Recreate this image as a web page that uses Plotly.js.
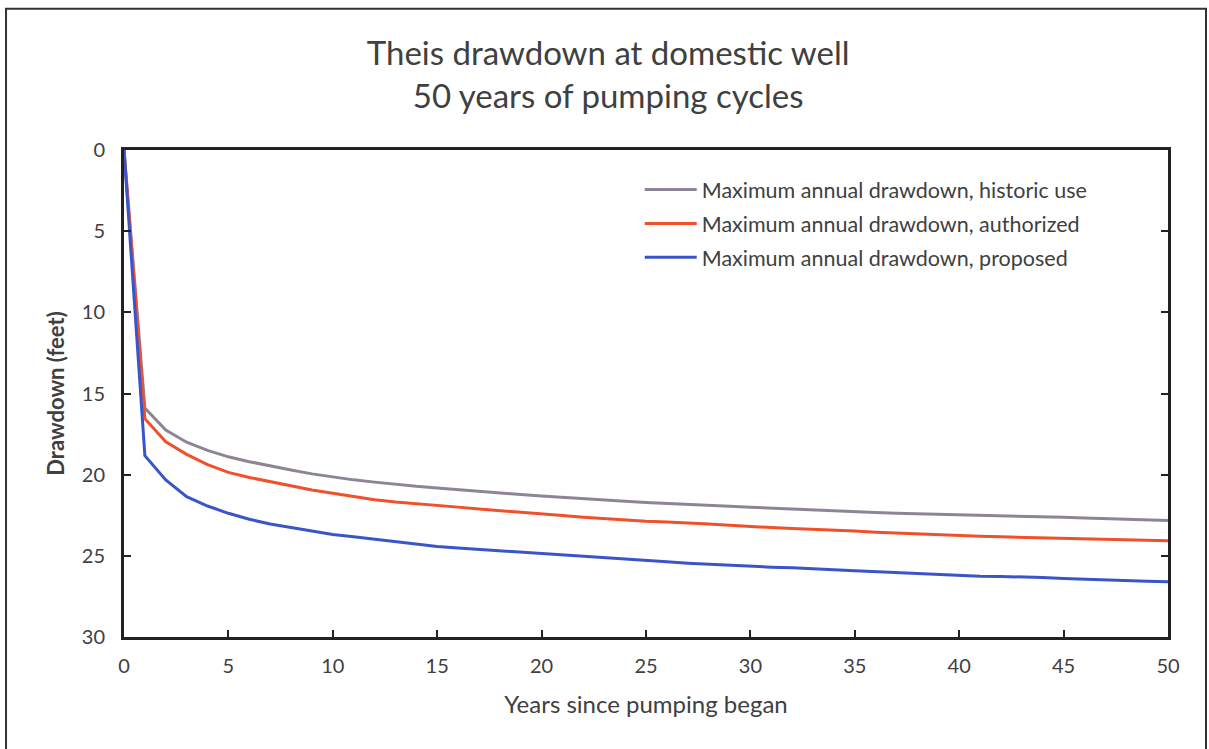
<!DOCTYPE html>
<html>
<head>
<meta charset="utf-8">
<script src="https://cdn.plot.ly/plotly-3.0.1.min.js"></script>
<style>
html,body{margin:0;padding:0;background:#fff;}
#chart{width:1209px;height:749px;}
</style>
</head>
<body>
<div id="chart"></div>
<script>
const years = Array.from({length: 51}, (_, i) => i);
const historic = [0, 15.9, 17.25, 18.0, 18.5, 18.9, 19.2, 19.47, 19.71, 19.95, 20.15, 20.32, 20.46, 20.6, 20.72, 20.82, 20.93, 21.03, 21.12, 21.22, 21.31, 21.4, 21.48, 21.56, 21.64, 21.71, 21.76, 21.81, 21.88, 21.95, 22.01, 22.07, 22.13, 22.18, 22.23, 22.28, 22.33, 22.37, 22.4, 22.42, 22.44, 22.48, 22.52, 22.55, 22.59, 22.63, 22.67, 22.71, 22.75, 22.79, 22.83];
const authorized = [0, 16.55, 17.97, 18.75, 19.38, 19.86, 20.17, 20.43, 20.7, 20.94, 21.14, 21.35, 21.54, 21.68, 21.78, 21.87, 22.0, 22.12, 22.23, 22.33, 22.42, 22.52, 22.62, 22.71, 22.8, 22.87, 22.92, 22.96, 23.04, 23.12, 23.2, 23.26, 23.31, 23.35, 23.41, 23.47, 23.54, 23.6, 23.66, 23.71, 23.76, 23.8, 23.83, 23.86, 23.9, 23.94, 23.96, 23.98, 24.01, 24.04, 24.07];
const proposed = [0, 18.83, 20.33, 21.36, 21.93, 22.38, 22.75, 23.04, 23.26, 23.49, 23.68, 23.82, 23.97, 24.12, 24.28, 24.42, 24.52, 24.6, 24.7, 24.78, 24.86, 24.94, 25.02, 25.1, 25.18, 25.26, 25.36, 25.45, 25.52, 25.58, 25.64, 25.7, 25.74, 25.78, 25.85, 25.92, 25.98, 26.04, 26.1, 26.16, 26.21, 26.25, 26.27, 26.29, 26.34, 26.39, 26.44, 26.49, 26.53, 26.56, 26.59];
const seriesNames = ["Maximum annual drawdown, historic use", "Maximum annual drawdown, authorized", "Maximum annual drawdown, proposed"];
const seriesColors = ["#8e8496", "#f0502a", "#3a55c8"];
const seriesData = [historic, authorized, proposed];
const xTicks = [0, 5, 10, 15, 20, 25, 30, 35, 40, 45, 50];
const yTicks = [0, 5, 10, 15, 20, 25, 30];

const FONT = "Lato, 'Open Sans', sans-serif";
const TXT = "#404040";

const traces = seriesData.map((d, i) => ({
  x: years, y: d, type: "scatter", mode: "lines",
  name: seriesNames[i], legendgroup: "g" + i,
  line: {color: seriesColors[i], width: 3}
}));

const layout = {
  width: 1209, height: 749,
  margin: {l: 124, r: 41, t: 150, b: 112},
  paper_bgcolor: "#ffffff", plot_bgcolor: "#ffffff",
  font: {family: FONT, color: TXT, size: 18},
  title: {
    text: "Theis drawdown at domestic well<br>50 years of pumping cycles",
    x: 0.503, xref: "container", xanchor: "center",
    y: 0.913, yref: "container", yanchor: "top",
    font: {family: FONT, size: 33, color: TXT}
  },
  showlegend: true,
  legend: {
    x: 0.494, xanchor: "left", y: 0.961, yanchor: "top",
    bgcolor: "rgba(0,0,0,0)", borderwidth: 0,
    font: {family: FONT, size: 21.5, color: TXT},
    traceorder: "grouped", tracegroupgap: 3, itemwidth: 52
  },
  xaxis: {
    range: [0, 50], tickvals: xTicks, ticktext: xTicks.map(String),
    showgrid: false, zeroline: false,
    showline: true, linecolor: "#222", linewidth: 3, mirror: true,
    ticks: "inside", ticklen: 7, tickwidth: 2, tickcolor: "#222",
    ticklabelstandoff: 9,
    tickfont: {family: FONT, size: 20, color: TXT},
    title: {text: "Years since pumping began", font: {family: FONT, size: 24, color: TXT}, standoff: 21}
  },
  yaxis: {
    range: [30, 0], tickvals: yTicks, ticktext: yTicks.map(String),
    showgrid: false, zeroline: false,
    showline: true, linecolor: "#222", linewidth: 3, mirror: "allticks",
    ticks: "inside", ticklen: 7, tickwidth: 2, tickcolor: "#222",
    ticklabelstandoff: 12,
    tickfont: {family: FONT, size: 20, color: TXT},
    title: {text: "<b>Drawdown (feet)</b>", font: {family: FONT, size: 22, color: TXT}, standoff: 12}
  },
  shapes: [{
    type: "rect", xref: "paper", yref: "paper",
    x0: -0.113, x1: 1.0364, y0: -0.26, y1: 1.29,
    line: {color: "#333", width: 2}, fillcolor: "rgba(0,0,0,0)", layer: "below"
  }]
};

Plotly.newPlot("chart", traces, layout, {displayModeBar: false, staticPlot: true});
</script>
</body>
</html>
